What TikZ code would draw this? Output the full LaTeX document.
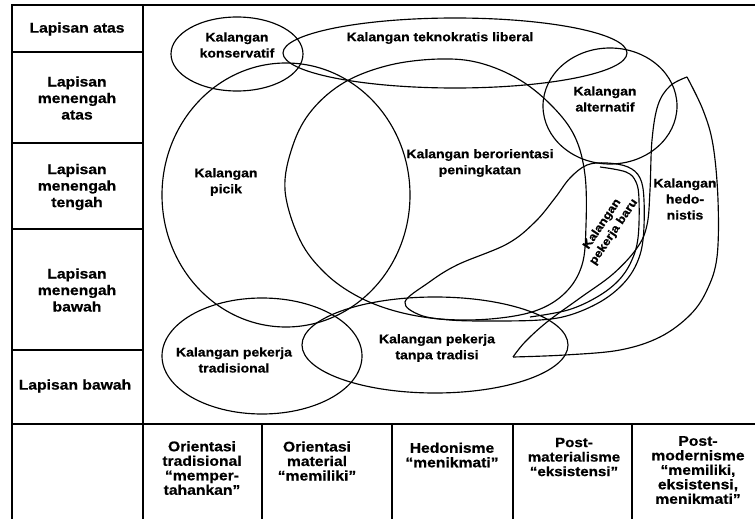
\documentclass[tikz,border=0pt]{standalone}
\usepackage{fontspec}
\setmainfont{Liberation Sans}
\newfontfamily\hfont{Liberation Sans Bold}[FakeStretch=1.12, FakeBold=0.6]
\begin{document}
\begin{tikzpicture}[x=1pt,y=-1pt,
  lab/.style={font=\hfont\fontsize{14}{16.5}\selectfont,align=center,inner sep=0pt},
  blab/.style={font=\hfont\fontsize{14}{14.5}\selectfont,align=center,inner sep=0pt},
  klab/.style={font=\hfont\fontsize{12.5}{16}\selectfont,align=center,inner sep=0pt},
  frame/.style={line width=1.3pt},
  setline/.style={line width=1.15pt}]
\useasboundingbox (0,0) rectangle (755,519);
% ---------- frame ----------
\draw[frame] (755,5) -- (12,5) -- (12,519);
\draw[frame] (143,5) -- (143,519);
\draw[frame] (12,52) -- (143,52);
\draw[frame] (12,143) -- (143,143);
\draw[frame] (12,229) -- (143,229);
\draw[frame] (12,350) -- (143,350);
\draw[frame] (12,424) -- (755,424);
\draw[frame] (262,424) -- (262,519);
\draw[frame] (392,424) -- (392,519);
\draw[frame] (513,424) -- (513,519);
\draw[frame] (632,424) -- (632,519);
% ---------- left column ----------
\node[lab] (la) at (77,29) {Lapisan atas};
\node[lab] (lma) at (77,98) {Lapisan\\menengah\\atas};
\node[lab] (lmt) at (77,187) {Lapisan\\menengah\\tengah};
\node[lab] (lmb) at (77,290) {Lapisan\\menengah\\bawah};
\node[lab] (lb) at (75,386) {Lapisan bawah};
% ---------- bottom row ----------
\node[blab] (o1) at (202,468) {Orientasi\\tradisional\\“memper-\\tahankan”};
\node[blab] (o2) at (317,461) {Orientasi\\material\\“memiliki”};
\node[blab] (o3) at (452,455) {Hedonisme\\“menikmati”};
\node[blab, font=\hfont\fontsize{13.5}{14.5}\selectfont] (o4) at (574,457) {Post-\\materialisme\\“eksistensi”};
\node[blab] (o5) at (698,470) {Post-\\modernisme\\“memiliki,\\eksistensi,\\menikmati”};
% ---------- sets ----------
\draw[setline] (237,54) ellipse [x radius=66, y radius=37];
\draw[setline] (455,53) ellipse [x radius=172, y radius=35];
\draw[setline] (286,195) ellipse [x radius=124, y radius=132];
\draw[setline] (610,106) ellipse [x radius=67, y radius=58];
\draw[setline] (262,356) ellipse [x radius=100, y radius=58];
\draw[setline] (435,345) ellipse [x radius=133, y radius=48];
% berorientasi peningkatan
\draw[setline] plot[smooth cycle, tension=0.6] coordinates {
  (285,190) (293,145) (312,110) (345,82) (390,65) (440,59) (480,63)
  (520,80) (553,107) (575,137) (585,175) (586,225) (582,265) (565,293)
  (535,311) (490,319) (440,319) (395,311) (357,296) (325,273) (300,240)};
% pekerja baru
\draw[setline] plot[smooth cycle, tension=0.6] coordinates {
  (405,302) (428,283) (457,265) (507,244) (535,222) (555,198) (570,178)
  (587,165) (607,163) (628,167) (640,178) (644,200) (643,240) (636,265)
  (622,285) (600,302) (570,315) (540,320) (490,321) (450,320) (420,315)};
\draw[setline] plot[smooth, tension=0.6] coordinates {
  (530,317) (568,310) (597,297) (618,281) (631,262) (638,238) (639,200)
  (636,182) (626,172) (600,167)};
% hedonistis
\draw[setline] plot[smooth, tension=0.6] coordinates {
  (687,77) (703,110) (713,145) (718,200) (717,257) (707,290) (690,315)
  (660,337) (620,350) (565,355) (513,357)};
\draw[setline] plot[smooth, tension=0.6] coordinates {
  (513,357) (525,342) (547,322) (580,298) (613,274) (637,248) (647,225)
  (650,190) (652,140) (658,105) (670,86) (687,77)};
% ---------- set labels ----------
\node[klab] (kons) at (237,45) {Kalangan\\konservatif};
\node[klab] (tekno) at (440,38) {Kalangan teknokratis liberal};
\node[klab] (picik) at (226,182) {Kalangan\\picik};
\node[klab] (ber) at (480,163) {Kalangan berorientasi\\peningkatan};
\node[klab] (alt) at (605,99) {Kalangan\\alternatif};
\node[klab] (hed) at (685,199) {Kalangan\\hedo-\\nistis};
\node[klab, font=\hfont\fontsize{11.5}{14}\selectfont, rotate=56] (baru) at (608,228) {Kalangan\\pekerja baru};
\node[klab] (trad) at (234,360) {Kalangan pekerja\\tradisional};
\node[klab] (tanpa) at (437,348) {Kalangan pekerja\\tanpa tradisi};
\end{tikzpicture}
\end{document}
